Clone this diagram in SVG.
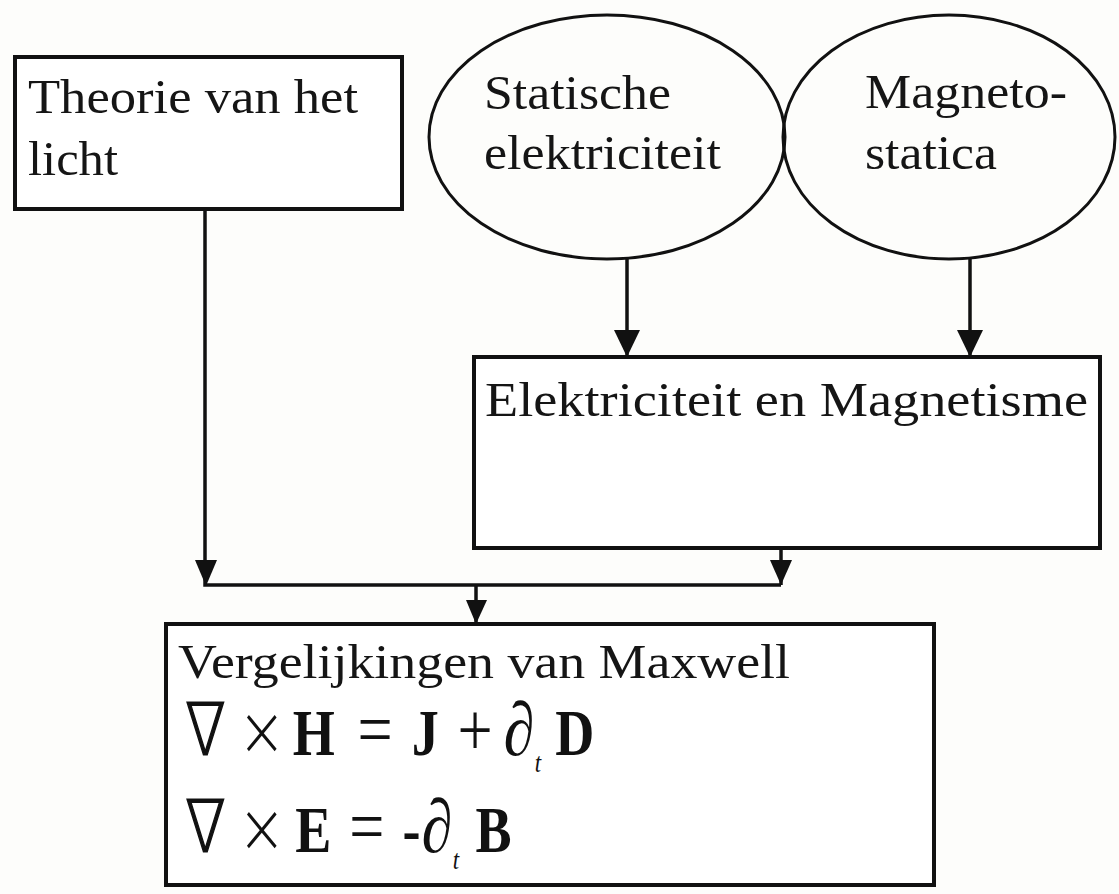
<svg xmlns="http://www.w3.org/2000/svg" width="1119" height="894" viewBox="0 0 1119 894">
<style>
.box{fill:#fff;stroke:#111;stroke-width:4}
.ell{fill:none;stroke:#111;stroke-width:3}
.t{font-family:"Liberation Serif","Times New Roman",serif;font-size:48px;fill:#151515}
.eq{font-family:"Liberation Serif","Times New Roman",serif;font-size:66px;fill:#111}
.nab{font-family:"DejaVu Sans",sans-serif;font-weight:200;font-size:72px;stroke:#111;stroke-width:1.6}
.op{font-size:76px}
.x{font-family:"DejaVu Sans",sans-serif;font-weight:200;font-size:70px}
.b{font-weight:bold}
.i{font-style:italic}
.d{font-style:italic;font-size:76px}
.c{stroke:#111;stroke-width:3.5;fill:none}
.h{fill:#111}
</style>
<rect width="1119" height="894" fill="#fdfdfb"/>
<g id="connectors">
<path class="c" d="M205,210 V585 H781"/>
<path class="c" d="M781,548 V585"/>
<path class="h" d="M195,560 L217,560 L206,586 Z"/>
<path class="h" d="M770,560 L792,560 L781,585 Z"/>
<path class="c" d="M476,585 V622"/>
<path class="h" d="M466,600 L487,600 L476,624 Z"/>
<path class="c" d="M627,258 V357"/>
<path class="h" d="M614,330 L640,330 L627,357 Z"/>
<path class="c" d="M970,257 V357"/>
<path class="h" d="M957,330 L983,330 L970,357 Z"/>
</g>
<g id="theorie">
<rect class="box" x="15" y="57" width="387" height="152"/>
<text class="t" x="28" y="113" textLength="330" lengthAdjust="spacingAndGlyphs">Theorie van het</text>
<text class="t" x="28" y="175" textLength="90" lengthAdjust="spacingAndGlyphs">licht</text>
</g>
<g id="statische">
<ellipse class="ell" cx="607" cy="137" rx="178" ry="122"/>
<text class="t" x="484" y="109" textLength="187" lengthAdjust="spacingAndGlyphs">Statische</text>
<text class="t" x="484" y="169" textLength="237" lengthAdjust="spacingAndGlyphs">elektriciteit</text>
</g>
<g id="magnetostatica">
<ellipse class="ell" cx="949" cy="137" rx="166" ry="122"/>
<text class="t" x="865" y="108" textLength="202" lengthAdjust="spacingAndGlyphs">Magneto-</text>
<text class="t" x="865" y="169" textLength="132" lengthAdjust="spacingAndGlyphs">statica</text>
</g>
<g id="elektromagnetisme">
<rect class="box" x="474" y="357" width="626" height="191"/>
<text class="t" x="485" y="416" textLength="603" lengthAdjust="spacingAndGlyphs">Elektriciteit en Magnetisme</text>
</g>
<g id="maxwell">
<rect class="box" x="166" y="624" width="768" height="261"/>
<text class="t" x="178" y="678" textLength="612" lengthAdjust="spacingAndGlyphs">Vergelijkingen van Maxwell</text>
<g transform="scale(0.82 1)">
<text class="eq" y="755"><tspan class="nab" x="226">∇</tspan><tspan class="x" x="290">×</tspan><tspan class="b" x="357">H</tspan><tspan class="op" x="436">=</tspan><tspan class="b" x="502">J</tspan><tspan class="op" x="558">+</tspan><tspan class="d" x="614">∂</tspan><tspan class="i" x="652" y="772" font-size="28">t</tspan><tspan class="b" x="677" y="755">D</tspan></text>
<text class="eq" y="852"><tspan class="nab" x="226">∇</tspan><tspan class="x" x="290">×</tspan><tspan class="b" x="360">E</tspan><tspan class="op" x="426">=</tspan><tspan class="b" x="491">-</tspan><tspan class="d" x="514">∂</tspan><tspan class="i" x="552" y="869" font-size="28">t</tspan><tspan class="b" x="580" y="852">B</tspan></text>
</g>
</g>
</svg>
